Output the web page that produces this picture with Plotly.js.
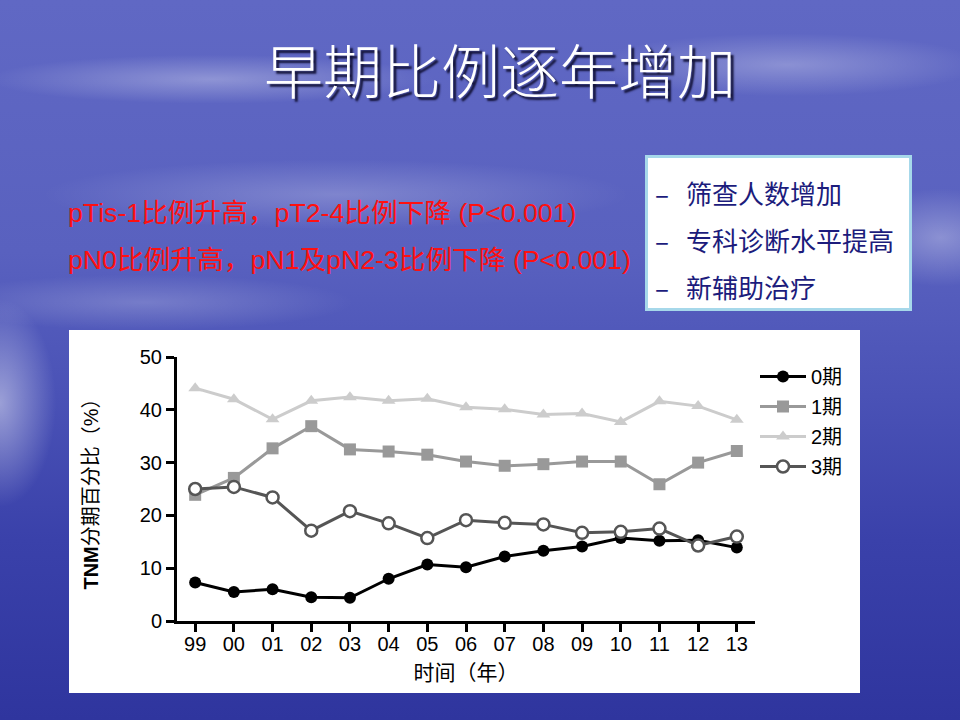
<!DOCTYPE html>
<html>
<head>
<meta charset="utf-8">
<script src="https://cdn.plot.ly/plotly-3.0.1.min.js"></script>
<style>
body {
    margin: 0;
    width: 960px;
    height: 720px;
    overflow: hidden;
    position: relative;
    font-family: "Liberation Sans", Arial, "Noto Sans CJK SC", sans-serif;
    background:
        radial-gradient(ellipse 70px 130px at 0% 56%, rgba(255,255,255,0.45), rgba(255,255,255,0) 80%),
        radial-gradient(ellipse 320px 35px at 22% 11%, rgba(255,255,255,0.3), rgba(255,255,255,0) 70%),
        radial-gradient(ellipse 280px 45px at 82% 9%, rgba(255,255,255,0.28), rgba(255,255,255,0) 70%),
        radial-gradient(ellipse 420px 50px at 35% 27%, rgba(255,255,255,0.22), rgba(255,255,255,0) 70%),
        radial-gradient(ellipse 120px 70px at 98% 33%, rgba(255,255,255,0.3), rgba(255,255,255,0) 70%),
        radial-gradient(ellipse 300px 40px at 15% 42%, rgba(255,255,255,0.2), rgba(255,255,255,0) 70%),
        linear-gradient(to bottom, #6068c4 0%, #5961bf 35%, #4a52b6 55%, #3a41aa 75%, #2f359e 100%);
}
#title {
    position: absolute;
    left: 0; width: 1000px; top: 26px;
    text-align: center;
    font-family: "Noto Sans CJK SC", sans-serif;
    font-weight: 300;
    font-size: 59px;
    color: #fff;
    text-shadow: 3px 3px 2px #14143a;
}
.red {
    position: absolute;
    left: 68px;
    font-size: 26.7px;
    line-height: 30px;
    color: #ff1010;
    white-space: nowrap;
}
#box {
    position: absolute;
    left: 645px; top: 155px;
    width: 261px; height: 150px;
    background: #fff;
    border: 3px solid #a6d8ea;
}
.item {
    position: absolute;
    left: 7px;
    font-family: "Noto Sans CJK SC", sans-serif;
    font-size: 26px;
    line-height: 30px;
    color: #1c1c7c;
    white-space: nowrap;
}
.item span { display: inline-block; width: 31px; }
#chart {
    position: absolute;
    left: 69px; top: 330px;
    width: 791px; height: 363px;
}
</style>
</head>
<body>
<div id="title">早期比例逐年增加</div>
<div class="red" style="top:198px">pTis-1比例升高，pT2-4比例下降 (P&lt;0.001)</div>
<div class="red" style="top:245px">pN0比例升高，pN1及pN2-3比例下降 (P&lt;0.001)</div>
<div id="box">
    <div class="item" style="top:20px"><span>–</span>筛查人数增加</div>
    <div class="item" style="top:67px"><span>–</span>专科诊断水平提高</div>
    <div class="item" style="top:114px"><span>–</span>新辅助治疗</div>
</div>
<div id="chart"></div>
<script>
var years = ["99","00","01","02","03","04","05","06","07","08","09","10","11","12","13"];
var stage0 = [7.3, 5.5, 6.0, 4.5, 4.4, 8.0, 10.7, 10.2, 12.2, 13.3, 14.1, 15.7, 15.2, 15.3, 13.9];
var stage1 = [23.9, 27.1, 32.7, 36.9, 32.5, 32.1, 31.5, 30.2, 29.4, 29.7, 30.2, 30.2, 25.9, 30.0, 32.2];
var stage2 = [44.1, 42.0, 38.2, 41.7, 42.4, 41.7, 42.1, 40.5, 40.1, 39.1, 39.3, 37.7, 41.6, 40.7, 38.1];
var stage3 = [25.0, 25.4, 23.4, 17.1, 20.8, 18.5, 15.7, 19.1, 18.6, 18.3, 16.7, 16.9, 17.5, 14.3, 16.0];
var names = ["0期", "1期", "2期", "3期"];

var font = "Liberation Sans, Arial, Noto Sans CJK SC, sans-serif";

function line(y, name, color, symbol, fill){
    return {
        x: years,
        y: y,
        name: name,
        legendgroup: name,
        type: "scatter",
        mode: "lines+markers",
        line: {color: color, width: 3},
        marker: {symbol: symbol, size: 12, color: fill, line: {color: color, width: fill == "#fff" ? 2.5 : 0}}
    };
}

var data = [
    line(stage0, names[0], "#000000", "circle", "#000000"),
    line(stage1, names[1], "#999999", "square", "#999999"),
    line(stage2, names[2], "#cccccc", "triangle-up", "#cccccc"),
    line(stage3, names[3], "#555555", "circle", "#fff")
];

var axisStyle = {
    showline: true, linewidth: 3, linecolor: "#000",
    ticks: "outside", ticklen: 8, tickwidth: 3, tickcolor: "#000",
    showgrid: false, zeroline: false,
    tickfont: {size: 20, color: "#000", family: font}
};

var layout = {
    width: 791, height: 363,
    margin: {l: 108, r: 105, t: 27, b: 72},
    paper_bgcolor: "#fff", plot_bgcolor: "#fff",
    font: {family: font, color: "#000"},
    showlegend: true,
    legend: {x: 1.0, y: 1.0, xanchor: "left", yanchor: "top", font: {size: 20},
             tracegroupgap: 1, itemwidth: 46},
    xaxis: Object.assign({}, axisStyle, {
        type: "category", range: [-0.47, 14.47],
        ticklabelstandoff: -5,
        title: {text: "时间（年）", font: {size: 21}, standoff: 12}
    }),
    yaxis: Object.assign({}, axisStyle, {
        range: [0, 50], dtick: 10,
        title: {text: "<b>TNM</b>分期百分比（%）", font: {size: 20}, standoff: 36}
    })
};

Plotly.newPlot("chart", data, layout, {displayModeBar: false, staticPlot: true});
</script>
</body>
</html>
